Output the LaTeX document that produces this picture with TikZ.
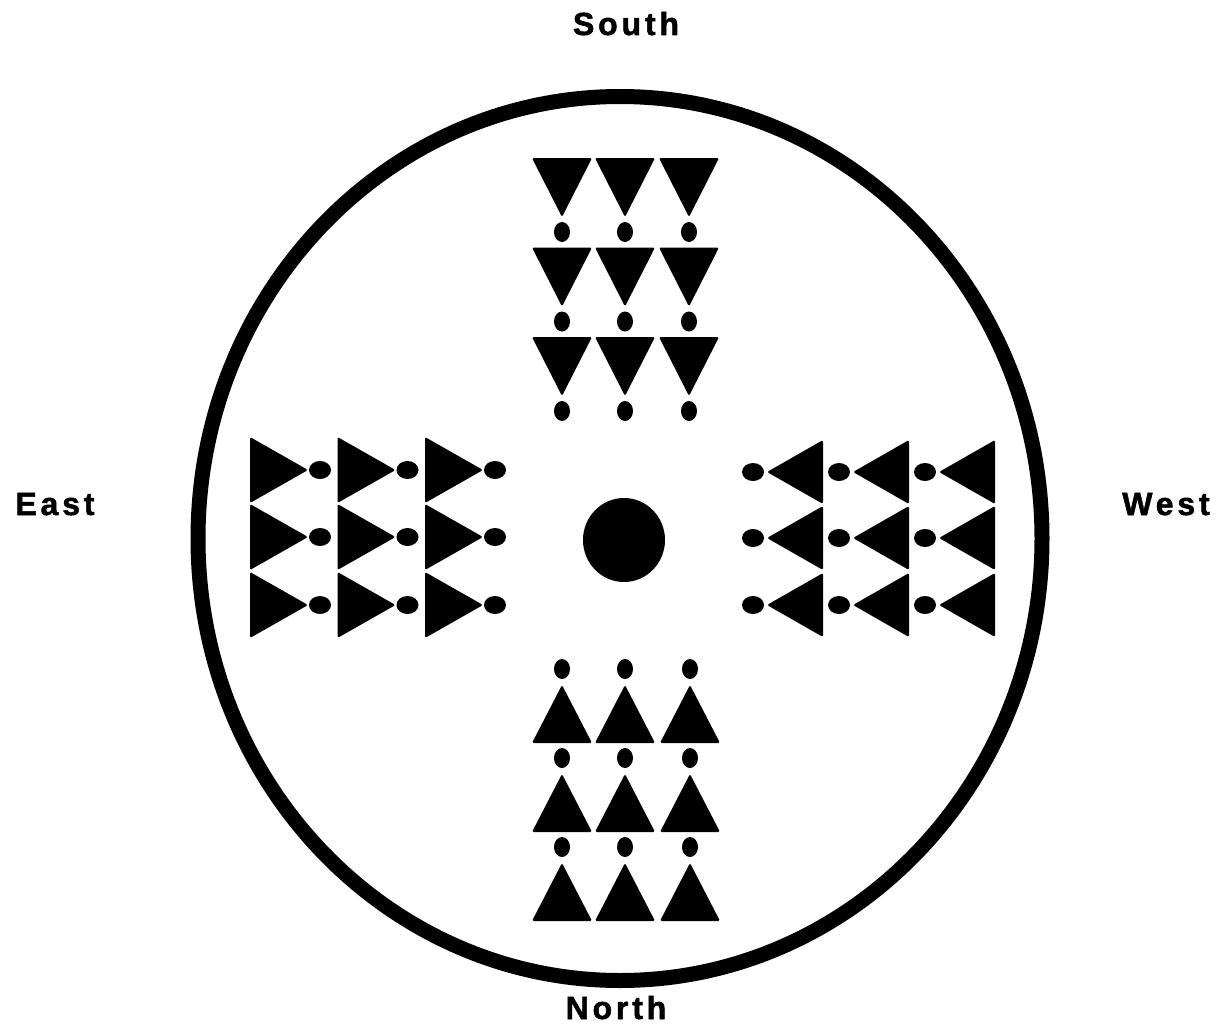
\documentclass[tikz,border=0pt]{standalone}
\usepackage{fontspec}
\newfontfamily\dirfont[LetterSpace=12,FakeBold=1.6]{Liberation Sans Bold}
\begin{document}
\begin{tikzpicture}[x=1pt,y=-1pt,
  dirlabel/.style={font=\dirfont\fontsize{32}{38}\selectfont, anchor=base, inner sep=0pt},
  ink/.style={fill=black, rounded corners=1.5pt}]
\fill[white] (0,0) rectangle (1224,1025);
\useasboundingbox (0,0) rectangle (1224,1025);
% outer ring
\draw[line width=15pt] (620,538.5) ellipse (422 and 442);
% center dot
\fill (624,540) ellipse (41 and 42);
% South group (top): triangles pointing down, dots below
\foreach \r in {0,1,2}{
  \foreach \cx in {562,625,689}{
    \pgfmathsetmacro{\ty}{158+89.5*\r}
    \fill[ink] (\cx-30,\ty) -- (\cx+30,\ty) -- (\cx,\ty+59) -- cycle;
    \fill (\cx,\ty+74) ellipse (8 and 10);
  }
}
% North group (bottom): dots above, triangles pointing up
\foreach \r in {0,1,2}{
  \foreach \cx in {562,625,690}{
    \pgfmathsetmacro{\ay}{685+89*\r}
    \fill[ink] (\cx,\ay) -- (\cx+30,\ay+58) -- (\cx-30,\ay+58) -- cycle;
    \fill (\cx,\ay-16) ellipse (8 and 10);
  }
}
% East group (left): triangles pointing right, dots to the right
\foreach \cy in {470,537,605}{
  \foreach \c in {0,1,2}{
    \pgfmathsetmacro{\lx}{250+87.5*\c}
    \fill[ink] (\lx,\cy-33) -- (\lx+58,\cy) -- (\lx,\cy+33) -- cycle;
    \fill (\lx+70,\cy) ellipse (11 and 9);
  }
}
% West group (right): dots to the left, triangles pointing left
\foreach \cy in {472,538,605}{
  \foreach \c in {0,1,2}{
    \pgfmathsetmacro{\rx}{823+86*\c}
    \fill[ink] (\rx,\cy-32) -- (\rx-56,\cy) -- (\rx,\cy+32) -- cycle;
    \fill (\rx-70,\cy) ellipse (11 and 9);
  }
}
% labels
\node[dirlabel] (south) at (626,35) {South};
\node[dirlabel] (east) at (55,515) {East};
\node[dirlabel] (west) at (1166,515) {West};
\node[dirlabel] (north) at (616,1019) {North};
\end{tikzpicture}
\end{document}
